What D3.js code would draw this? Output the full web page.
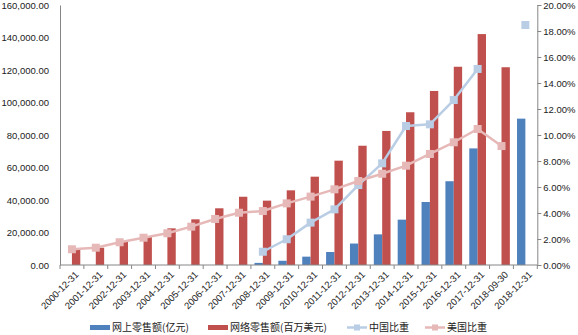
<!DOCTYPE html>
<html>
<head>
<meta charset="utf-8">
<script src="https://cdn.jsdelivr.net/npm/d3@7"></script>
<style>
  html, body { margin: 0; padding: 0; background: #fff; }
  svg { display: block; }
</style>
</head>
<body>
<svg id="chart" width="578" height="335"></svg>
<script>
// Reporting dates on the category axis
const categories = [
  "2000-12-31", "2001-12-31", "2002-12-31", "2003-12-31", "2004-12-31",
  "2005-12-31", "2006-12-31", "2007-12-31", "2008-12-31", "2009-12-31",
  "2010-12-31", "2011-12-31", "2012-12-31", "2013-12-31", "2014-12-31",
  "2015-12-31", "2016-12-31", "2017-12-31", "2018-09-30", "2018-12-31"
];

// 网上零售额 (亿元) — China online retail sales
const chinaSales = [
  null, null, null, null, null, null, null, null, 1300, 2600,
  5131, 8000, 13205, 18851, 27898, 38773, 51556, 71751, null, 90065
];

// 网络零售额 (百万美元) — US e-commerce retail sales
const usSales = [
  9650, 10650, 14350, 17400, 22550, 28100, 34900, 42000, 39600, 45950,
  54350, 64200, 73400, 82500, 94000, 107100, 122000, 142100, 121700, null
];

// 中国比重 (%) — online share of China retail
const chinaShare = [
  null, null, null, null, null, null, null, null, 1.02, 1.98,
  3.26, 4.28, 6.15, 7.82, 10.69, 10.82, 12.69, 15.08, null, 18.46
];

// 美国比重 (%) — online share of US retail
const usShare = [
  1.21, 1.33, 1.75, 2.10, 2.44, 2.95, 3.54, 4.02, 4.15, 4.74,
  5.26, 5.82, 6.46, 7.02, 7.64, 8.54, 9.44, 10.46, 9.15, null
];

const leftTicks = [0, 20000, 40000, 60000, 80000, 100000, 120000, 140000, 160000];
const rightTicks = [0, 2, 4, 6, 8, 10, 12, 14, 16, 18, 20];

const legendItems = [
  { label: "网上零售额(亿元)", kind: "bar", color: "#4F81BD" },
  { label: "网络零售额(百万美元)", kind: "bar", color: "#C0504D" },
  { label: "中国比重", kind: "line", color: "#B9CDE5" },
  { label: "美国比重", kind: "line", color: "#E6B9B8" }
];

const COLORS = {
  chinaBar: "#4F81BD",
  usBar: "#C0504D",
  chinaLine: "#B9CDE5",
  usLine: "#E6B9B8",
  axis: "#868686",
  text: "#222"
};
const NUM_FONT = "'Liberation Sans', Arial, sans-serif";
const CJK_FONT = "'Noto Sans CJK SC', 'Noto Sans', sans-serif";

const svg = d3.select("#chart");
const plot = { left: 60, right: 537.3, top: 5, bottom: 265 };

const x = d3.scaleBand().domain(categories).range([plot.left, plot.right]).padding(0);
const yL = d3.scaleLinear().domain([0, 160000]).range([plot.bottom, plot.top]);
const yR = d3.scaleLinear().domain([0, 20]).range([plot.bottom, plot.top]);
const center = c => x(c) + x.bandwidth() / 2;
const barW = x.bandwidth() * 0.35;

// Bars: China left of the category centre, US right of it
const barData = categories.map((c, i) => ({ c, cn: chinaSales[i], us: usSales[i] }));
svg.append("g").selectAll("rect")
  .data(barData.filter(d => d.cn != null))
  .join("rect")
  .attr("x", d => center(d.c) - barW)
  .attr("y", d => yL(d.cn))
  .attr("width", barW)
  .attr("height", d => yL(0) - yL(d.cn))
  .attr("fill", COLORS.chinaBar);
svg.append("g").selectAll("rect")
  .data(barData.filter(d => d.us != null))
  .join("rect")
  .attr("x", d => center(d.c))
  .attr("y", d => yL(d.us))
  .attr("width", barW)
  .attr("height", d => yL(0) - yL(d.us))
  .attr("fill", COLORS.usBar);

// Left value axis
const leftAxis = d3.axisLeft(yL).tickValues(leftTicks).tickSize(0).tickPadding(11)
  .tickFormat(d3.format(",.2f"));
const gL = svg.append("g").attr("transform", `translate(${plot.left},0)`).call(leftAxis);
gL.select(".domain").attr("stroke", COLORS.axis);
gL.selectAll("text").attr("font-family", NUM_FONT).attr("font-size", 9.5).attr("fill", COLORS.text);

// Right share axis
const rightAxis = d3.axisRight(yR).tickValues(rightTicks).tickSize(4).tickPadding(2)
  .tickFormat(d => d.toFixed(2) + "%");
const gR = svg.append("g").attr("transform", `translate(${plot.right},0)`).call(rightAxis);
gR.select(".domain").attr("stroke", COLORS.axis);
gR.selectAll("line").attr("stroke", COLORS.axis);
gR.selectAll("text").attr("font-family", NUM_FONT).attr("font-size", 9.5).attr("fill", COLORS.text);

// Category axis
const gB = svg.append("g").attr("transform", `translate(0,${plot.bottom})`);
gB.append("line").attr("x1", plot.left).attr("x2", plot.right)
  .attr("stroke", COLORS.axis);
gB.selectAll("line.tick")
  .data(categories.concat([null]))
  .join("line").attr("class", "tick")
  .attr("x1", (d, i) => plot.left + i * x.bandwidth())
  .attr("x2", (d, i) => plot.left + i * x.bandwidth())
  .attr("y1", 0).attr("y2", 4)
  .attr("stroke", COLORS.axis);
gB.selectAll("text")
  .data(categories)
  .join("text")
  .attr("transform", d => `translate(${center(d) + 5},8) rotate(-45)`)
  .attr("text-anchor", "end")
  .attr("dy", "0.35em")
  .attr("font-family", NUM_FONT).attr("font-size", 9.5).attr("fill", COLORS.text)
  .text(d => d);

// Share lines with square markers
function drawShare(values, color) {
  const pts = categories.map((c, i) => ({ c, v: values[i] }));
  const line = d3.line()
    .defined(d => d.v != null)
    .x(d => center(d.c))
    .y(d => yR(d.v));
  const g = svg.append("g");
  g.append("path").datum(pts)
    .attr("d", line)
    .attr("fill", "none")
    .attr("stroke", color)
    .attr("stroke-width", 2.5)
    .attr("stroke-linejoin", "round");
  g.selectAll("rect")
    .data(pts.filter(d => d.v != null))
    .join("rect")
    .attr("x", d => center(d.c) - 4)
    .attr("y", d => yR(d.v) - 4)
    .attr("width", 8).attr("height", 8)
    .attr("fill", color);
}
drawShare(chinaShare, COLORS.chinaLine);
drawShare(usShare, COLORS.usLine);

// Legend
const legendX = [90, 208, 347, 425];
const legendY = 327.5;
const lg = svg.append("g");
legendItems.forEach((item, i) => {
  const gx = legendX[i];
  if (item.kind === "bar") {
    lg.append("rect").attr("x", gx).attr("y", legendY - 2.5)
      .attr("width", 20).attr("height", 5).attr("fill", item.color);
  } else {
    lg.append("line").attr("x1", gx).attr("x2", gx + 20)
      .attr("y1", legendY).attr("y2", legendY)
      .attr("stroke", item.color).attr("stroke-width", 2.5);
    lg.append("rect").attr("x", gx + 7).attr("y", legendY - 3)
      .attr("width", 6).attr("height", 6).attr("fill", item.color);
  }
  lg.append("text").attr("x", gx + 22).attr("y", legendY)
    .attr("dy", "0.35em")
    .attr("font-family", CJK_FONT).attr("font-size", 10).attr("fill", COLORS.text)
    .text(item.label);
});
</script>
</body>
</html>
